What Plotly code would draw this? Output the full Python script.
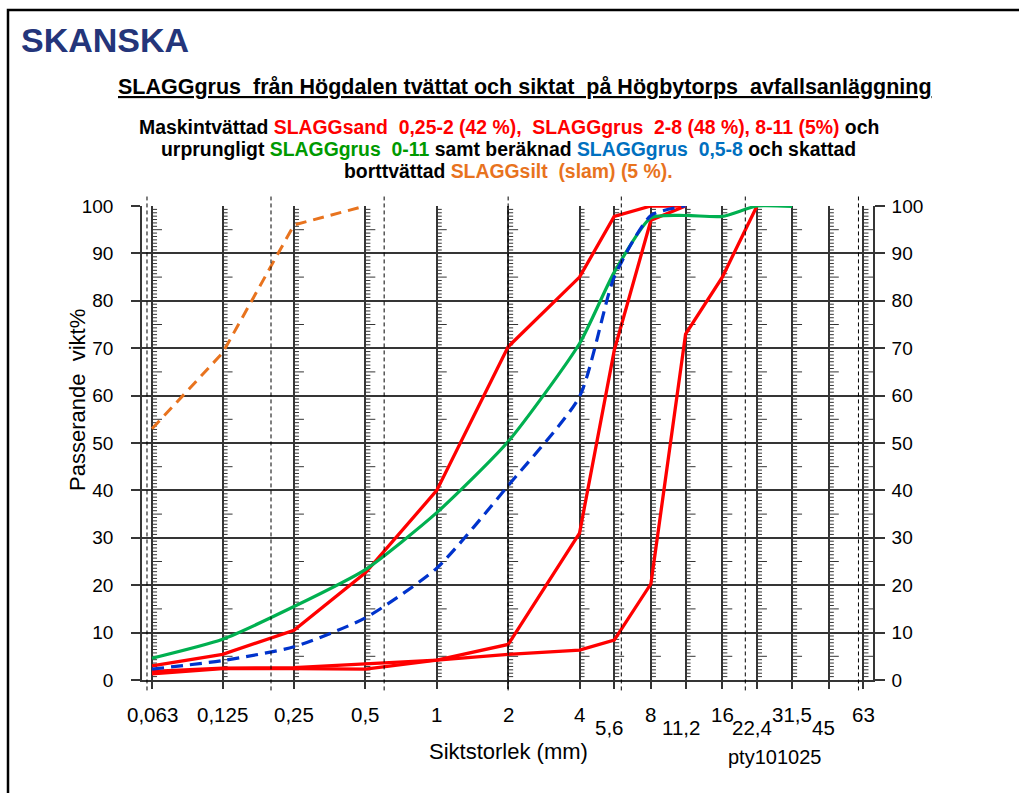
import numpy as np
import plotly.graph_objects as go

# ---------------- data ----------------
sieve = [0.063, 0.125, 0.25, 0.5, 1, 2, 4, 5.6, 8, 11.2, 16, 22.4, 31.5, 45, 63]
sieve_labels = ["0,063", "0,125", "0,25", "0,5", "1", "2", "4", "5,6", "8",
                "11,2", "16", "22,4", "31,5", "45", "63"]
label_low = [False, False, False, False, False, False, False, True, False,
             True, False, True, False, True, False]
fraction_bounds = [0.06, 0.2, 0.6, 2, 6, 20, 60]
y_ticks = [0, 10, 20, 30, 40, 50, 60, 70, 80, 90, 100]

x_silt = [0.063, 0.125, 0.25, 0.5]
y_silt = [53, 69, 96, 100]

x_orig = [0.063, 0.125, 0.25, 0.5, 1, 2, 4, 5.6, 8, 11.2, 16, 22.4, 31.5]
y_orig = [4.6, 8.6, 15.5, 23.3, 35.3, 50.3, 71, 86, 97.5, 98.0, 97.8, 100, 99.9]

x_calc = [0.063, 0.125, 0.25, 0.5, 1, 2, 4, 5.6, 8, 11.2]
y_calc = [2.3, 4.1, 7.0, 13.1, 23.6, 41, 59.8, 85, 98, 100]

x_sand = [0.063, 0.125, 0.25, 0.5, 1, 2, 4, 5.6, 8, 11.2]
y_sand = [3.0, 5.4, 10.5, 22.6, 40, 70.3, 85, 97.8, 100, 100]

x_grus28 = [0.063, 0.125, 0.25, 0.5, 1, 2, 4, 5.6, 8, 11.2]
y_grus28 = [1.3, 2.4, 2.4, 2.3, 4.2, 7.5, 31, 69.5, 97, 100]

x_grus811 = [0.063, 0.125, 0.25, 0.5, 1, 2, 4, 5.6, 8, 11.2, 16, 22.4]
y_grus811 = [1.8, 2.5, 2.6, 3.4, 4.2, 5.4, 6.3, 8.4, 20.3, 73, 85, 100]

# ---------------- layout geometry ----------------
W, H = 1019, 793
L, R, T, B = 142, 146, 206, 113
PW, PH = W - L - R, H - T - B
XMIN, XMAX = np.log10(0.05716), np.log10(69.1)
PX_PER_DEC = PW / (XMAX - XMIN)

def pxx(xpix):
    return (xpix - L) / PW

def pxy(ypix):
    return (H - B - ypix) / PH

FONT = "Arial, Liberation Sans, sans-serif"
GRID = "#353535"
RED = "#FF0000"
GREEN = "#00B050"
BLUE = "#0033CC"
ORANGE = "#E8731E"

fig = go.Figure()

# comb ticks along each sieve gridline
comb_y = [k * 10 / 14 for k in range(141)]
short_x, short_y, long_x, long_y = [], [], [], []
for s in sieve:
    for k, yy in enumerate(comb_y):
        if k % 14 == 0:
            continue
        if k % 7 == 0:
            long_x.append(s * 10 ** (5.0 / PX_PER_DEC))
            long_y.append(yy)
        else:
            short_x.append(s * 10 ** (2.5 / PX_PER_DEC))
            short_y.append(yy)
fig.add_trace(go.Scatter(x=short_x, y=short_y, mode="markers", hoverinfo="skip",
                         marker=dict(symbol="line-ew", size=3.6,
                                     line=dict(color=GRID, width=1)),
                         showlegend=False, cliponaxis=False))
fig.add_trace(go.Scatter(x=long_x, y=long_y, mode="markers", hoverinfo="skip",
                         marker=dict(symbol="line-ew", size=7.1,
                                     line=dict(color=GRID, width=1)),
                         showlegend=False, cliponaxis=False))

# data series
fig.add_trace(go.Scatter(x=x_silt, y=y_silt, mode="lines", name="SLAGGsilt",
                         line=dict(color=ORANGE, width=3, dash="11px,7px")))
fig.add_trace(go.Scatter(x=x_grus811, y=y_grus811, mode="lines", name="8-11",
                         line=dict(color=RED, width=3.3)))
fig.add_trace(go.Scatter(x=x_grus28, y=y_grus28, mode="lines", name="2-8",
                         line=dict(color=RED, width=3.3)))
fig.add_trace(go.Scatter(x=x_sand, y=y_sand, mode="lines", name="0,25-2",
                         line=dict(color=RED, width=3.3)))
fig.add_trace(go.Scatter(x=x_orig, y=y_orig, mode="lines", name="0-11",
                         line=dict(color=GREEN, width=3.2, shape="spline", smoothing=0.6)))
fig.add_trace(go.Scatter(x=x_calc, y=y_calc, mode="lines", name="0,5-8",
                         line=dict(color=BLUE, width=3.2, dash="12px,7px",
                                   shape="spline", smoothing=0.6)))
# dummy trace so the right axis is drawn
fig.add_trace(go.Scatter(x=[1], y=[None], yaxis="y2", mode="lines",
                         showlegend=False, hoverinfo="skip"))

# dashed fraction boundaries
shapes = []
for fb in fraction_bounds:
    shapes.append(dict(type="line", xref="x", yref="paper", x0=fb, x1=fb,
                       y0=-0.022, y1=1.02,
                       line=dict(color="black", width=1, dash="4px,3px"), layer="above"))
# outer frame
shapes.append(dict(type="rect", xref="paper", yref="paper",
                   x0=pxx(8), x1=pxx(1040), y0=pxy(820), y1=pxy(10),
                   line=dict(color="black", width=2.5), fillcolor="rgba(0,0,0,0)"))

NB = "\u00a0"
annotations = []
# x tick labels (two rows)
for s, lab, low in zip(sieve, sieve_labels, label_low):
    annotations.append(dict(x=np.log10(s), xref="x", y=pxy(727 if low else 714), yref="paper",
                            text=lab, showarrow=False, xanchor="center", yanchor="middle",
                            xshift=-5 if low else 0,
                            font=dict(family=FONT, size=20.5, color="black")))
annotations.append(dict(x=pxx(508), y=pxy(751), xref="paper", yref="paper",
                        text="Siktstorlek (mm)", showarrow=False, xanchor="center",
                        yanchor="middle", font=dict(family=FONT, size=22, color="black")))
annotations.append(dict(x=pxx(774), y=pxy(757), xref="paper", yref="paper",
                        text="pty101025", showarrow=False, xanchor="center",
                        yanchor="middle", font=dict(family=FONT, size=20, color="black")))
annotations.append(dict(x=pxx(77), y=pxy(400), xref="paper", yref="paper",
                        text="Passerande" + NB + NB + "vikt%", showarrow=False, textangle=-90,
                        xanchor="center", yanchor="middle",
                        font=dict(family=FONT, size=22, color="black")))
annotations.append(dict(x=pxx(19), y=pxy(40), xref="paper", yref="paper",
                        text="<b>SKANSKA</b>", showarrow=False, xanchor="left",
                        yanchor="middle", font=dict(family=FONT, size=34, color="#24357A")))
title = ("SLAGGgrus" + NB + NB + "från Högdalen tvättat och siktat" + NB + NB + "på Högbytorps"
         + NB + NB + "avfallsanläggning")
annotations.append(dict(x=pxx(525), y=pxy(87), xref="paper", yref="paper",
                        text="<b><u>" + title + "</u></b>", showarrow=False,
                        xanchor="center", yanchor="middle",
                        font=dict(family=FONT, size=21.5, color="black")))

def col(t, c):
    return "<span style='color:" + c + "'>" + t + "</span>"

line1 = ("Maskintvättad " + col("SLAGGsand" + NB + NB + "0,25-2 (42" + NB + "%)," + NB + NB
                              + "SLAGGgrus" + NB + NB + "2-8 (48" + NB + "%), 8-11 (5%)", RED) + " och")
line2 = ("urprungligt " + col("SLAGGgrus" + NB + NB + "0-11", "#009A00") + " samt beräknad "
         + col("SLAGGgrus" + NB + NB + "0,5-8", "#0070C0") + " och skattad")
line3 = "borttvättad " + col("SLAGGsilt" + NB + NB + "(slam) (5" + NB + "%).", "#E8731E")
for ly, txt in zip([127, 149, 171], [line1, line2, line3]):
    annotations.append(dict(x=pxx(509), y=pxy(ly), xref="paper", yref="paper",
                            text="<b>" + txt + "</b>", showarrow=False,
                            xanchor="center", yanchor="middle",
                            font=dict(family=FONT, size=19.4, color="black")))

fig.update_layout(
    width=W, height=H,
    margin=dict(l=L, r=R, t=T, b=B, autoexpand=False),
    paper_bgcolor="white", plot_bgcolor="white",
    showlegend=False,
    shapes=shapes, annotations=annotations,
    xaxis=dict(type="log", range=[XMIN, XMAX], tickvals=sieve, showticklabels=False,
               ticks="outside", ticklen=7, tickcolor=GRID, tickwidth=1.5,
               showgrid=True, gridcolor=GRID, gridwidth=1.6,
               showline=True, linecolor=GRID, linewidth=1.6, zeroline=False,
               mirror=False, fixedrange=True),
    yaxis=dict(range=[0, 100], tickvals=y_ticks, ticks="outside", ticklen=9,
               tickcolor=GRID, tickwidth=1.5, showgrid=True, gridcolor=GRID, gridwidth=1.6,
               showline=True, linecolor=GRID, linewidth=1.6, zeroline=False,
               tickfont=dict(family=FONT, size=19, color="black"),
               ticklabelstandoff=14),
    yaxis2=dict(range=[0, 100], tickvals=y_ticks, overlaying="y", side="right",
                ticks="outside", ticklen=10, tickcolor=GRID, tickwidth=1.5,
                showgrid=False, showline=True, linecolor=GRID, linewidth=1.6,
                zeroline=False, tickfont=dict(family=FONT, size=19, color="black"),
                ticklabelstandoff=3),
)

fig.write_html("out.html")
